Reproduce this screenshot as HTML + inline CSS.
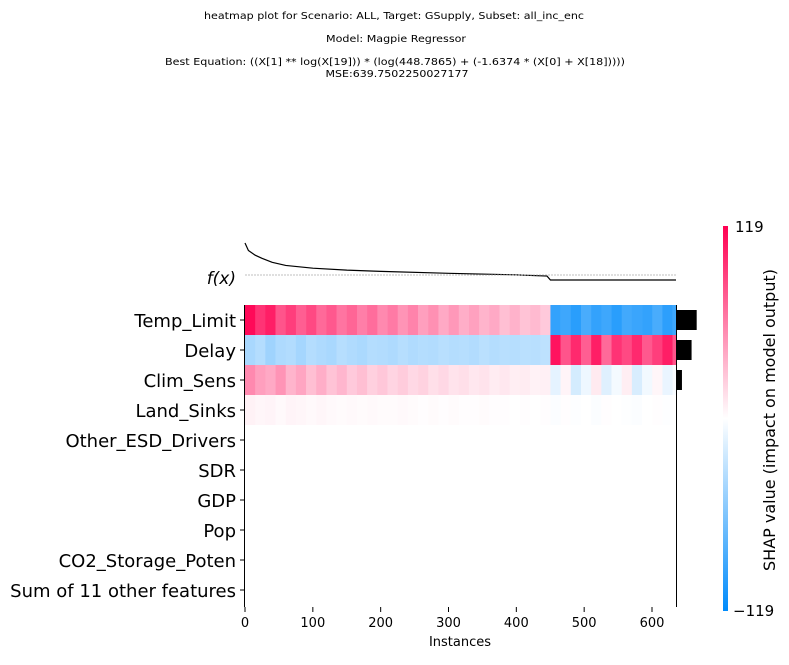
<!DOCTYPE html>
<html><head><meta charset="utf-8"><style>
body{margin:0;background:#fff;width:789px;height:660px;overflow:hidden;font-family:"Liberation Sans","DejaVu Sans",sans-serif}
</style></head><body>
<svg id="chart" width="789" height="660" xmlns="http://www.w3.org/2000/svg" font-family="'DejaVu Sans','Liberation Sans',sans-serif">
<defs>
<linearGradient id="cbar" x1="0" y1="1" x2="0" y2="0">
<stop offset="0" stop-color="#008bfb"/><stop offset="0.5" stop-color="#ffffff"/><stop offset="1" stop-color="#ff0052"/>
</linearGradient>
</defs>
<g font-size="10" text-anchor="middle" fill="#000">
<text x="394" y="19" textLength="380" lengthAdjust="spacingAndGlyphs">heatmap plot for Scenario: ALL, Target: GSupply, Subset: all_inc_enc</text>
<text x="396" y="42" textLength="140" lengthAdjust="spacingAndGlyphs">Model: Magpie Regressor</text>
<text x="395" y="65" textLength="460" lengthAdjust="spacingAndGlyphs">Best Equation: ((X[1] ** log(X[19])) * (log(448.7865) + (-1.6374 * (X[0] + X[18]))))</text>
<text x="397" y="77" textLength="143" lengthAdjust="spacingAndGlyphs">MSE:639.7502250027177</text>
</g>
<g id="heat"></g>
<g id="bars"></g>
<path id="fx" fill="none" stroke="#000" stroke-width="1.2"/>
<line x1="245" x2="676" y1="275" y2="275" stroke="#aaa" stroke-width="0.7" stroke-dasharray="2,1"/>
<text x="236" y="284" font-size="17" text-anchor="end" font-style="italic">f(x)</text>
<line x1="244.5" x2="244.5" y1="305" y2="607" stroke="#000"/>
<line x1="676.5" x2="676.5" y1="305" y2="607" stroke="#000"/>
<g id="ylabels" font-size="18" text-anchor="end"></g>
<g id="xaxis" font-size="13" text-anchor="middle"></g>
<text x="460" y="646" font-size="13" text-anchor="middle">Instances</text>
<rect x="723" y="226" width="5" height="385" fill="url(#cbar)"/>
<text x="735" y="232" font-size="15">119</text>
<text x="733" y="616" font-size="15">−119</text>
<text transform="translate(775,420) rotate(-90)" font-size="16" text-anchor="middle">SHAP value (impact on model output)</text>
</svg>
<script>
const features=["Temp_Limit","Delay","Clim_Sens","Land_Sinks","Other_ESD_Drivers","SDR","GDP","Pop","CO2_Storage_Poten","Sum of 11 other features"];
const blockSize=15;
const nInstances=635;
const rowTempLimit=[115,95,105,80,90,75,85,70,78,65,72,60,68,55,62,50,58,45,52,40,48,38,44,35,40,30,36,28,32,25,-95,-90,-100,-85,-95,-90,-100,-88,-92,-95,-85,-98,-90];
const rowDelay=[-40,-35,-45,-38,-36,-42,-35,-38,-40,-34,-37,-39,-35,-36,-38,-34,-37,-35,-36,-33,-35,-34,-36,-32,-35,-33,-34,-32,-33,-31,110,80,100,75,105,70,95,85,100,78,90,105,80];
const rowClimSens=[55,45,40,50,35,42,30,38,28,34,25,30,22,26,20,24,18,21,15,18,13,15,11,13,9,11,8,9,6,7,-12,5,-20,-8,10,-15,-5,8,-18,-6,4,-10,-3];
const rowLandSinks=[6,4,5,3,5,4,3,4,3,2,3,2,3,2,2,3,2,1,2,1,2,1,1,2,1,1,0,1,0,1,-2,1,-1,0,-2,1,0,-1,-2,0,1,-1,0];
const fxInstances=[0,5,15,25,40,60,100,150,200,300,400,445,450,635];
const fxValues=[119,100,88,80,70,62,55,50,47,42,38,35,25,25];
const xTicks=[0,100,200,300,400,500,600];
const rows=[rowTempLimit,rowDelay,rowClimSens,rowLandSinks];
const vmax=119;
const NS="http://www.w3.org/2000/svg";
const xS=i=>245+i*(676-245)/nInstances;
const yRow=r=>305+r*30;
const yFx=v=>280-(v-25)*37/94;
function color(v){
 const t=Math.max(-1,Math.min(1,v/vmax));
 let c=t>=0?[255,0,82]:[0,139,251];const a=Math.abs(t);
 return `rgb(${Math.round(255+(c[0]-255)*a)},${Math.round(255+(c[1]-255)*a)},${Math.round(255+(c[2]-255)*a)})`;
}
const heat=document.getElementById('heat');
rows.forEach((row,r)=>{
 row.forEach((v,b)=>{
  const i0=b*blockSize,i1=Math.min(nInstances,(b+1)*blockSize);
  const el=document.createElementNS(NS,'rect');
  
  
  el.setAttribute('x',xS(i0));el.setAttribute('width',xS(i1)-xS(i0)+0.3);
  el.setAttribute('y',yRow(r));el.setAttribute('height',30);
  el.setAttribute('fill',color(v));heat.appendChild(el);
 });
});
const bars=document.getElementById('bars');
rows.forEach((row,r)=>{
 let s=0,n=0;row.forEach((v,b)=>{const w=Math.min(nInstances,(b+1)*blockSize)-b*blockSize;s+=Math.abs(v)*w;n+=w;});
 const m=s/n;
 const el=document.createElementNS(NS,'rect');
 
 
 el.setAttribute('x',676);el.setAttribute('width',m*0.3);
 el.setAttribute('y',yRow(r)+5);el.setAttribute('height',20);el.setAttribute('fill','#000');
 bars.appendChild(el);
});
document.getElementById('fx').setAttribute('d',fxInstances.map((i,k)=>(k?'L':'M')+xS(i)+','+yFx(fxValues[k])).join(''));
const yl=document.getElementById('ylabels');
features.forEach((f,r)=>{
 const t=document.createElementNS(NS,'text');
 
 
 t.setAttribute('x',236);t.setAttribute('y',yRow(r)+22);t.textContent=f;yl.appendChild(t);
 const l=document.createElementNS(NS,'line');
 
 
 l.setAttribute('x1',240);l.setAttribute('x2',244);l.setAttribute('y1',yRow(r)+15);l.setAttribute('y2',yRow(r)+15);l.setAttribute('stroke','#000');yl.appendChild(l);
});
const xa=document.getElementById('xaxis');
const xPx=v=>245+v*(652-245)/600;
xTicks.forEach(v=>{
 const l=document.createElementNS(NS,'line');
 
 
 l.setAttribute('x1',xPx(v));l.setAttribute('x2',xPx(v));l.setAttribute('y1',607);l.setAttribute('y2',612);l.setAttribute('stroke','#000');xa.appendChild(l);
 const t=document.createElementNS(NS,'text');
 
 
 t.setAttribute('x',xPx(v));t.setAttribute('y',627);t.textContent=v;xa.appendChild(t);
});
</script>
</body></html>
